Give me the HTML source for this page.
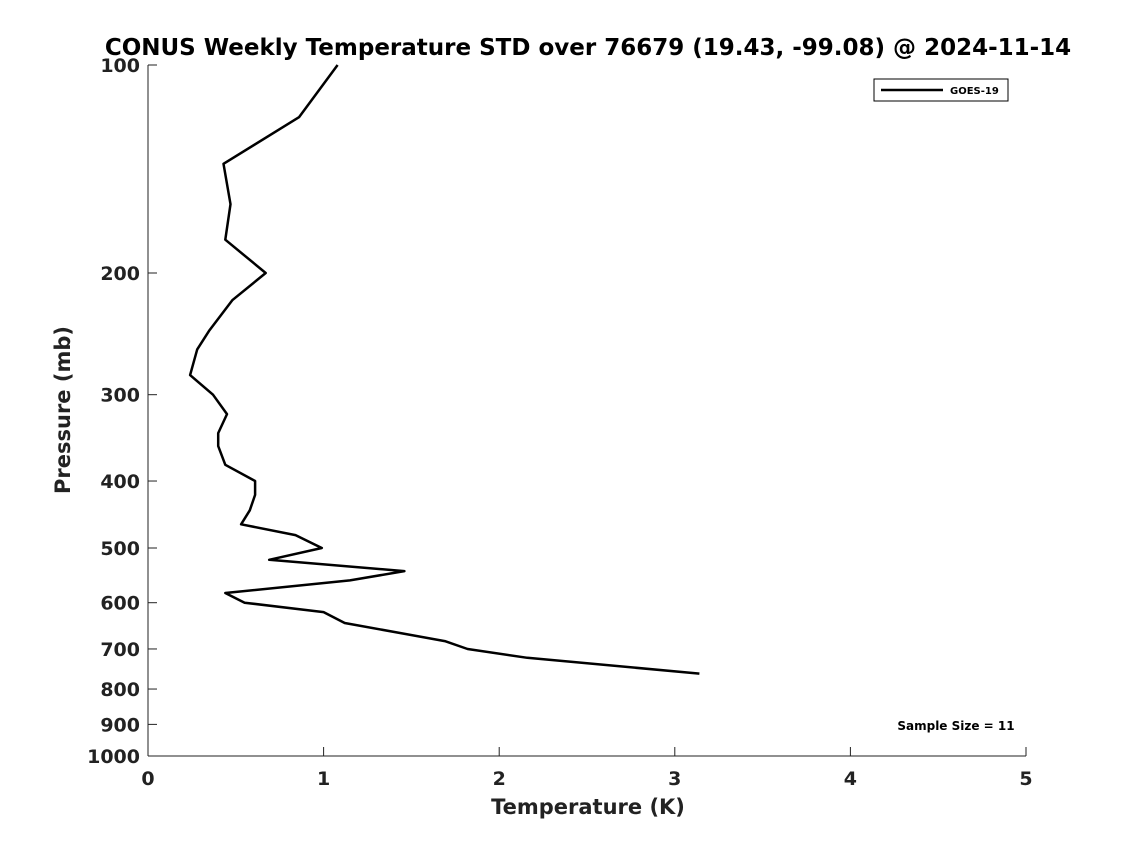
<!DOCTYPE html>
<html><head><meta charset="utf-8"><style>
body{margin:0;background:#fff}
svg{display:block;font-family:"DejaVu Sans","Liberation Sans",sans-serif}
</style></head><body>
<svg id="chart" width="1135" height="851">
<text x="588" y="55" text-anchor="middle" font-size="23" font-weight="bold" fill="#000">CONUS Weekly Temperature STD over 76679 (19.43, -99.08) @ 2024-11-14</text>
<g id="axes"></g>
<path id="line" fill="none" stroke="#000" stroke-width="2.5" stroke-linejoin="round"></path>
<g>
<rect x="874" y="79" width="134" height="22" fill="#fff" stroke="#000" stroke-width="1"/>
<line x1="881" y1="90" x2="943" y2="90" stroke="#000" stroke-width="2.5"/>
<text x="950" y="94" font-size="10" font-weight="bold">GOES-19</text>
</g>
<text x="956" y="730" text-anchor="middle" font-size="12" font-weight="bold">Sample Size = 11</text>
<text x="588" y="814" text-anchor="middle" font-size="21" font-weight="bold" fill="#222">Temperature (K)</text>
<text transform="translate(70,410) rotate(-90)" text-anchor="middle" font-size="21" font-weight="bold" fill="#222">Pressure (mb)</text>
</svg>
<script>
const temps=[1.08,0.86,0.43,0.47,0.44,0.67,0.48,0.35,0.28,0.24,0.37,0.45,0.40,0.40,0.44,0.61,0.61,0.58,0.53,0.84,0.99,0.69,1.46,1.15,0.44,0.55,1.0,1.12,1.69,1.82,2.16,3.14];
const pressures=[100,119,139,159,179,200,219,242,258,281,300,320,341,356,379,400,419,441,462,479,500,520,540,557,581,600,619,642,682,700,721,760];
const xTicks=[0,1,2,3,4,5];
const yTicks=[100,200,300,400,500,600,700,800,900,1000];
const X0=148,X1=1026,Y0=65,Y1=756;
function xs(v){return X0+(v-0)/(5-0)*(X1-X0);}
function ys(p){return Y0+Math.log10(p/100)*(Y1-Y0);}
const ns="http://www.w3.org/2000/svg";
const ax=document.getElementById('axes');
function mk(t,a){const e=document.createElementNS(ns,t);for(const k in a)e.setAttribute(k,a[k]);ax.appendChild(e);return e;}
let e=mk('line',{x1:X0,y1:Y0,x2:X0,y2:Y1,stroke:'#222','stroke-width':1});


e=mk('line',{x1:X0,y1:Y1,x2:X1,y2:Y1,stroke:'#222','stroke-width':1});


xTicks.forEach(v=>{
 const t=mk('line',{x1:xs(v),y1:Y1,x2:xs(v),y2:Y1-9,stroke:'#222'});
 
 
 const l=mk('text',{x:xs(v),y:Y1+29,'text-anchor':'middle','font-size':19,'font-weight':'bold',fill:'#222'});
 l.textContent=v;
 
 
});
yTicks.forEach(v=>{
 const t=mk('line',{x1:X0,y1:ys(v),x2:X0+9,y2:ys(v),stroke:'#222'});
 
 
 const l=mk('text',{x:X0-8,y:ys(v)+7,'text-anchor':'end','font-size':19,'font-weight':'bold',fill:'#222'});
 l.textContent=v;
 
 
});
document.getElementById('line').setAttribute('d',temps.map((t,i)=>(i?'L':'M')+xs(t).toFixed(1)+','+ys(pressures[i]).toFixed(1)).join(' '));
</script>
</body></html>
